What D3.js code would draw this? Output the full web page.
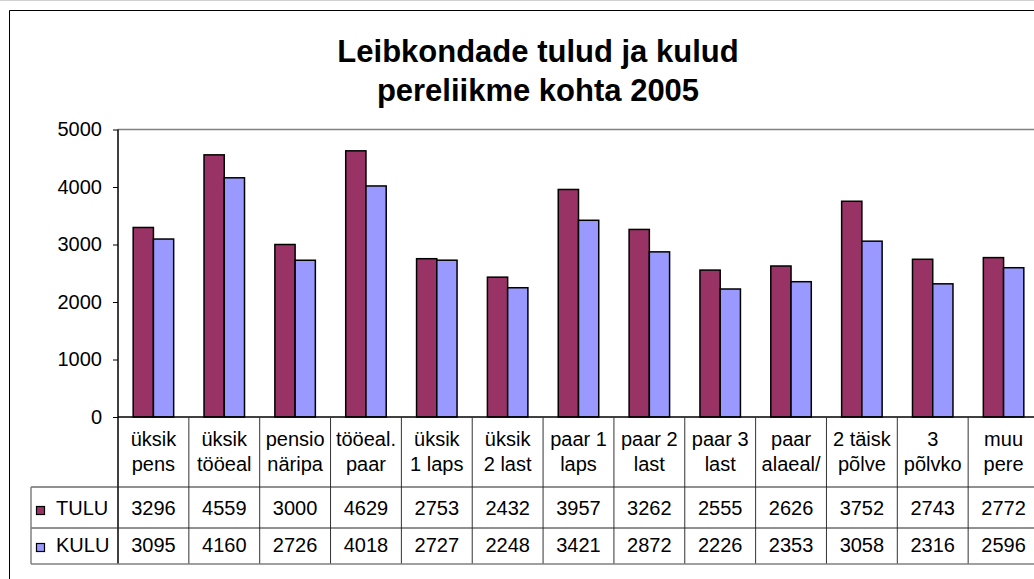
<!DOCTYPE html>
<html>
<head>
<meta charset="utf-8">
<script src="https://cdn.jsdelivr.net/npm/d3@7"></script>
<style>
  body { margin: 0; background: #fff; }
  svg { display: block; font-family: "Liberation Sans", Arial, sans-serif; }
</style>
</head>
<body>
<script>
// household types (two-line labels as in the table header)
var categories = [
    ["üksik", "pens"], ["üksik", "tööeal"], ["pensio", "näripa"], ["tööeal.", "paar"],
    ["üksik", "1 laps"], ["üksik", "2 last"], ["paar 1", "laps"], ["paar 2", "last"],
    ["paar 3", "last"], ["paar", "alaeal/"], ["2 täisk", "põlve"], ["3", "põlvko"],
    ["muu", "pere"]
];
var tulu = [3296, 4559, 3000, 4629, 2753, 2432, 3957, 3262, 2555, 2626, 3752, 2743, 2772];
var kulu = [3095, 4160, 2726, 4018, 2727, 2248, 3421, 2872, 2226, 2353, 3058, 2316, 2596];
var seriesNames = ["TULU", "KULU"];
var seriesColors = ["#993366", "#9999FF"];
var yTicks = [0, 1000, 2000, 3000, 4000, 5000];

var W = 1034, H = 579;
var plot = { left: 118, right: 1039, top: 129.5, bottom: 417 };
var table = { left: 31, headBottom: 487, row1Bottom: 528, row2Bottom: 564 };

var svg = d3.select("body").append("svg")
    .attr("width", W)
    .attr("height", H);

svg.append("rect").attr("width", W).attr("height", H).attr("fill", "#fff");

// chart frame (right and bottom fall outside the picture)
svg.append("line").attr("x1", 0).attr("x2", W).attr("y1", 0.5).attr("y2", 0.5)
    .attr("stroke", "#d0d0d0");
svg.append("path")
    .attr("d", "M9.5," + H + "V10.5H" + W)
    .attr("fill", "none").attr("stroke", "#000");

// title
var title = svg.append("text")
    .attr("text-anchor", "middle")
    .attr("font-weight", "bold")
    .attr("font-size", 31);
title.append("tspan").attr("x", 538).attr("y", 62).text("Leibkondade tulud ja kulud");
title.append("tspan").attr("x", 538).attr("y", 101).text("pereliikme kohta 2005");

var x = d3.scaleBand()
    .domain(d3.range(categories.length))
    .range([plot.left, plot.right]);

var xs = d3.scaleBand()
    .domain(seriesNames)
    .range([0, x.bandwidth()])
    .paddingOuter(0.75);

var y = d3.scaleLinear()
    .domain([0, 5000])
    .range([plot.bottom, plot.top]);

// plot area top border
svg.append("line")
    .attr("x1", plot.left).attr("x2", W)
    .attr("y1", plot.top).attr("y2", plot.top)
    .attr("stroke", "#808080").attr("stroke-width", 1.5);

// bars
var groups = svg.append("g").selectAll("g")
    .data(categories.map(function(c, i) { return { i: i, values: [tulu[i], kulu[i]] }; }))
    .join("g")
    .attr("transform", function(d) { return "translate(" + x(d.i) + ",0)"; });

groups.selectAll("rect")
    .data(function(d) { return d.values.map(function(v, k) { return { key: seriesNames[k], k: k, v: v }; }); })
    .join("rect")
    .attr("x", function(d) { return xs(d.key); })
    .attr("width", xs.bandwidth())
    .attr("y", function(d) { return y(d.v); })
    .attr("height", function(d) { return y(0) - y(d.v); })
    .attr("fill", function(d) { return seriesColors[d.k]; })
    .attr("stroke", "#000")
    .attr("stroke-width", 1.5);

// y axis
var yAxis = d3.axisLeft(y)
    .tickValues(yTicks)
    .tickSize(5)
    .tickSizeOuter(0)
    .tickPadding(11)
    .tickFormat(d3.format("d"));

svg.append("g")
    .attr("transform", "translate(" + plot.left + ",0)")
    .call(yAxis)
    .call(function(g) {
        g.select(".domain").remove();
        g.selectAll(".tick line").attr("stroke", "#000");
        g.selectAll(".tick text")
            .attr("font-family", "Liberation Sans, Arial, sans-serif")
            .attr("font-size", 20)
            .attr("fill", "#000");
    });

// zero line and axis line
svg.append("line")
    .attr("x1", plot.left).attr("x2", W)
    .attr("y1", plot.bottom).attr("y2", plot.bottom)
    .attr("stroke", "#000").attr("stroke-width", 1.5);
svg.append("line")
    .attr("x1", plot.left).attr("x2", plot.left)
    .attr("y1", plot.top).attr("y2", table.row2Bottom)
    .attr("stroke", "#000").attr("stroke-width", 1.5);

/*** data table ***/
var tbl = svg.append("g");

// vertical separators between categories
tbl.selectAll("line.col")
    .data(d3.range(1, categories.length + 1))
    .join("line")
    .attr("class", "col")
    .attr("x1", function(i) { return x(i) !== undefined ? x(i) : plot.right; })
    .attr("x2", function(i) { return x(i) !== undefined ? x(i) : plot.right; })
    .attr("y1", plot.bottom)
    .attr("y2", table.row2Bottom)
    .attr("stroke", "#333");

// horizontal rules
tbl.append("line").attr("x1", table.left).attr("x2", W)
    .attr("y1", table.headBottom).attr("y2", table.headBottom).attr("stroke", "#222");
tbl.append("line").attr("x1", table.left).attr("x2", W)
    .attr("y1", table.row1Bottom).attr("y2", table.row1Bottom).attr("stroke", "#222");
tbl.append("line").attr("x1", table.left).attr("x2", W)
    .attr("y1", table.row2Bottom).attr("y2", table.row2Bottom).attr("stroke", "#808080").attr("stroke-width", 1.5);
tbl.append("line").attr("x1", table.left).attr("x2", table.left)
    .attr("y1", table.headBottom).attr("y2", table.row2Bottom).attr("stroke", "#808080").attr("stroke-width", 1.5);

// header labels
var head = tbl.selectAll("text.head")
    .data(categories)
    .join("text")
    .attr("class", "head")
    .attr("text-anchor", "middle")
    .attr("font-size", 20);
head.append("tspan")
    .attr("x", function(d, i) { return x(i) + x.bandwidth() / 2; })
    .attr("y", 446)
    .text(function(d) { return d[0]; });
head.append("tspan")
    .attr("x", function(d, i) { return x(i) + x.bandwidth() / 2; })
    .attr("y", 471)
    .text(function(d) { return d[1]; });

// value rows with legend keys
var rowBase = [515, 552];
[tulu, kulu].forEach(function(vals, k) {
    tbl.append("rect")
        .attr("x", 36.5).attr("y", rowBase[k] - 8.5)
        .attr("width", 8).attr("height", 8)
        .attr("fill", seriesColors[k])
        .attr("stroke", "#000").attr("stroke-width", 1.2);
    tbl.append("text")
        .attr("x", 56).attr("y", rowBase[k])
        .attr("font-size", 20)
        .text(seriesNames[k]);
    tbl.selectAll("text.v" + k)
        .data(vals)
        .join("text")
        .attr("class", "v" + k)
        .attr("text-anchor", "middle")
        .attr("x", function(d, i) { return x(i) + x.bandwidth() / 2; })
        .attr("y", rowBase[k])
        .attr("font-size", 20)
        .text(function(d) { return d; });
});
</script>
</body>
</html>
